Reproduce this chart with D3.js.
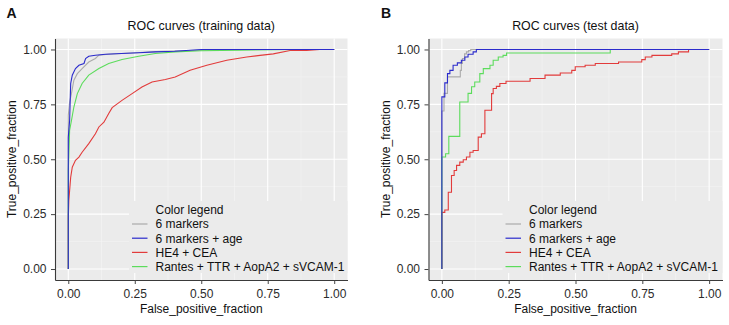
<!DOCTYPE html>
<html>
<head>
<meta charset="utf-8">
<script src="https://cdn.jsdelivr.net/npm/d3@7"></script>
<style>
  body { margin: 0; background: #fff; }
  svg { display: block; font-family: "Liberation Sans", Arial, sans-serif; }
</style>
</head>
<body>
<div id="chart"></div>
<script>
// ---- data ----
var seriesNames = ["6 markers", "6 markers + age", "HE4 + CEA", "Rantes + TTR + AopA2 + sVCAM-1"];
var seriesColors = ["#ababab", "#2b2bcc", "#e23b3b", "#5cdc5c"];
var tickValues = [0, 0.25, 0.5, 0.75, 1];

// training data (panel A)
var trainFpr6 = [0, 0, 0.005, 0.012, 0.021, 0.034, 0.052, 0.077, 0.102, 0.115, 0.15, 0.2, 0.27, 0.33, 0.4, 0.5, 0.6, 1];
var trainTpr6 = [0, 0.70, 0.76, 0.80, 0.86, 0.89, 0.913, 0.943, 0.959, 0.974, 0.978, 0.982, 0.986, 0.99, 0.993, 0.997, 1, 1];
var trainFprAge = [0, 0, 0.005, 0.009, 0.015, 0.027, 0.04, 0.059, 0.065, 0.077, 0.102, 0.14, 0.2, 0.265, 0.327, 0.4, 0.5, 1];
var trainTprAge = [0, 0.60, 0.677, 0.845, 0.883, 0.913, 0.928, 0.936, 0.959, 0.969, 0.974, 0.978, 0.982, 0.985, 0.989, 0.992, 1, 1];
var trainFprHe4 = [0, 0, 0.002, 0.005, 0.009, 0.015, 0.027, 0.04, 0.052, 0.077, 0.102, 0.115, 0.134, 0.152, 0.165, 0.202, 0.24, 0.277, 0.315, 0.365, 0.402, 0.458, 0.521, 0.596, 0.671, 0.721, 0.771, 0.834, 0.896, 0.946, 1];
var trainTprHe4 = [0, 0.236, 0.312, 0.358, 0.418, 0.464, 0.495, 0.51, 0.532, 0.571, 0.616, 0.647, 0.669, 0.708, 0.735, 0.768, 0.799, 0.829, 0.852, 0.863, 0.875, 0.905, 0.928, 0.951, 0.966, 0.973, 0.98, 0.995, 0.996, 1, 1];
var trainFprRantes = [0, 0, 0.002, 0.005, 0.012, 0.021, 0.034, 0.052, 0.077, 0.115, 0.152, 0.202, 0.265, 0.327, 0.402, 0.5, 0.65, 0.85, 1];
var trainTprRantes = [0, 0.45, 0.52, 0.632, 0.677, 0.738, 0.799, 0.845, 0.883, 0.913, 0.936, 0.954, 0.969, 0.982, 0.989, 0.994, 0.997, 1, 1];

// test data (panel B), corners of the step curves
var testFpr6 = [0, 0, 0.008, 0.021, 0.069, 0.073, 0.077, 0.085, 0.092, 0.1, 0.108, 1];
var testTpr6 = [0, 0.72, 0.80, 0.875, 0.905, 0.936, 0.959, 0.98, 0.989, 0.995, 1, 1];
var testFprAge = [0, 0, 0.011, 0.021, 0.03, 0.042, 0.058, 0.073, 0.086, 0.098, 0.117, 0.129, 1];
var testTprAge = [0, 0.784, 0.848, 0.89, 0.905, 0.928, 0.939, 0.951, 0.966, 0.978, 0.989, 1, 1];
var testFprHe4 = [0, 0, 0.011, 0.024, 0.036, 0.046, 0.055, 0.067, 0.08, 0.092, 0.105, 0.117, 0.136, 0.148, 0.161, 0.186, 0.192, 0.204, 0.217, 0.24, 0.33, 0.386, 0.443, 0.486, 0.499, 0.536, 0.574, 0.661, 0.748, 0.761, 0.786, 0.86, 0.885, 0.923, 1];
var testTprHe4 = [0, 0.258, 0.269, 0.35, 0.426, 0.449, 0.472, 0.487, 0.498, 0.51, 0.532, 0.54, 0.601, 0.616, 0.723, 0.799, 0.822, 0.832, 0.845, 0.855, 0.868, 0.883, 0.893, 0.905, 0.921, 0.928, 0.936, 0.943, 0.954, 0.966, 0.973, 0.98, 0.989, 1, 1];
var testFprRantes = [0, 0, 0.014, 0.026, 0.067, 0.098, 0.111, 0.123, 0.142, 0.155, 0.18, 0.192, 0.211, 0.229, 0.242, 0.63, 1];
var testTprRantes = [0, 0.51, 0.525, 0.604, 0.761, 0.80, 0.83, 0.852, 0.89, 0.913, 0.928, 0.951, 0.966, 0.973, 0.984, 1, 1];

var zip = (xs, ys) => xs.map((x, i) => ({fpr: x, tpr: ys[i]}));

var width = 729, height = 325;

var svg = d3.select("#chart")
    .append("svg")
    .attr("width", width)
    .attr("height", height);

function drawPanel(p) {
    var x = d3.scaleLinear().domain([-0.05, 1.05]).range([p.left, p.right]);
    var y = d3.scaleLinear().domain([-0.05, 1.05]).range([p.bottom, p.top]);

    var g = svg.append("g");

    // panel background + grid
    g.append("rect")
        .attr("x", p.left).attr("y", p.top)
        .attr("width", p.right - p.left).attr("height", p.bottom - p.top)
        .attr("fill", "#ebebeb");

    var minor = [0.125, 0.375, 0.625, 0.875];
    g.selectAll(".vminor").data(minor).enter().append("line")
        .attr("x1", d => x(d)).attr("x2", d => x(d))
        .attr("y1", p.top).attr("y2", p.bottom)
        .attr("stroke", "#f5f5f5").attr("stroke-width", 0.6);
    g.selectAll(".hminor").data(minor).enter().append("line")
        .attr("y1", d => y(d)).attr("y2", d => y(d))
        .attr("x1", p.left).attr("x2", p.right)
        .attr("stroke", "#f5f5f5").attr("stroke-width", 0.6);
    g.selectAll(".vmajor").data(tickValues).enter().append("line")
        .attr("x1", d => x(d)).attr("x2", d => x(d))
        .attr("y1", p.top).attr("y2", p.bottom)
        .attr("stroke", "#ffffff").attr("stroke-width", 1.1);
    g.selectAll(".hmajor").data(tickValues).enter().append("line")
        .attr("y1", d => y(d)).attr("y2", d => y(d))
        .attr("x1", p.left).attr("x2", p.right)
        .attr("stroke", "#ffffff").attr("stroke-width", 1.1);

    // curves
    var line = d3.line()
        .x(d => x(d.fpr))
        .y(d => y(d.tpr))
        .curve(p.step ? d3.curveStepAfter : d3.curveLinear);

    p.order.forEach(i => {
        g.append("path")
            .datum(p.curves[i])
            .attr("fill", "none")
            .attr("stroke", seriesColors[i])
            .attr("stroke-width", 1.1)
            .attr("d", line);
    });

    // legend
    var lx = p.left;
    g.append("rect")
        .attr("x", lx + 74).attr("y", 201)
        .attr("width", p.right - lx - 74).attr("height", 72)
        .attr("fill", "#ebebeb");
    g.append("text")
        .attr("x", lx + 100.5).attr("y", 213.5)
        .attr("font-size", 12).attr("fill", "#111")
        .text("Color legend");
    var ly = d3.scalePoint().domain(seriesNames).range([224, 266.6]);
    var leg = g.selectAll(".leg").data(seriesNames).enter().append("g");
    leg.append("line")
        .attr("x1", lx + 77).attr("x2", lx + 92.5)
        .attr("y1", d => ly(d)).attr("y2", d => ly(d))
        .attr("stroke", (d, i) => seriesColors[i]).attr("stroke-width", 1.2);
    leg.append("text")
        .attr("x", lx + 100.5).attr("y", d => ly(d) + 4.3)
        .attr("font-size", 12).attr("fill", "#111")
        .text(d => d);

    // axes
    var xAxis = d3.axisBottom(x).tickValues(tickValues).tickFormat(d3.format(".2f"))
        .tickSize(4).tickSizeOuter(0).tickPadding(5.5);
    var yAxis = d3.axisLeft(y).tickValues(tickValues).tickFormat(d3.format(".2f"))
        .tickSize(4).tickSizeOuter(0).tickPadding(4.5);

    var ax = g.append("g")
        .attr("transform", `translate(0,${p.bottom})`)
        .call(xAxis);
    var ay = g.append("g")
        .attr("transform", `translate(${p.left},0)`)
        .call(yAxis);
    [ax, ay].forEach(a => {
        a.select(".domain").attr("stroke", "#3a3a3a").attr("stroke-width", 1.1);
        a.selectAll(".tick line").attr("stroke", "#444");
        a.selectAll(".tick text").attr("font-size", 12).attr("fill", "#2b2b2b")
            .attr("font-family", "Liberation Sans, Arial, sans-serif");
    });

    // titles
    var cx = (p.left + p.right) / 2;
    g.append("text")
        .attr("x", cx).attr("y", 30)
        .attr("text-anchor", "middle").attr("font-size", 12.4).attr("fill", "#111")
        .text(p.title);
    g.append("text")
        .attr("x", cx).attr("y", 313)
        .attr("text-anchor", "middle").attr("font-size", 12).attr("fill", "#111")
        .text("False_positive_fraction");
    g.append("text")
        .attr("transform", `translate(${p.left - 39},${(p.top + p.bottom) / 2}) rotate(-90)`)
        .attr("text-anchor", "middle").attr("font-size", 12).attr("fill", "#111")
        .text("True_positive_fraction");
    g.append("text")
        .attr("x", p.labelX).attr("y", 18)
        .attr("font-size", 14).attr("font-weight", "bold").attr("fill", "#111")
        .text(p.label);
}

drawPanel({
    left: 55, right: 347.5, top: 38.5, bottom: 280,
    title: "ROC curves (training data)", label: "A", labelX: 6.5,
    step: false, order: [0, 2, 3, 1],
    curves: [zip(trainFpr6, trainTpr6), zip(trainFprAge, trainTprAge),
             zip(trainFprHe4, trainTprHe4), zip(trainFprRantes, trainTprRantes)]
});

drawPanel({
    left: 428.5, right: 722.5, top: 38.5, bottom: 280,
    title: "ROC curves (test data)", label: "B", labelX: 381,
    step: true, order: [0, 2, 3, 1],
    curves: [zip(testFpr6, testTpr6), zip(testFprAge, testTprAge),
             zip(testFprHe4, testTprHe4), zip(testFprRantes, testTprRantes)]
});
</script>
</body>
</html>
